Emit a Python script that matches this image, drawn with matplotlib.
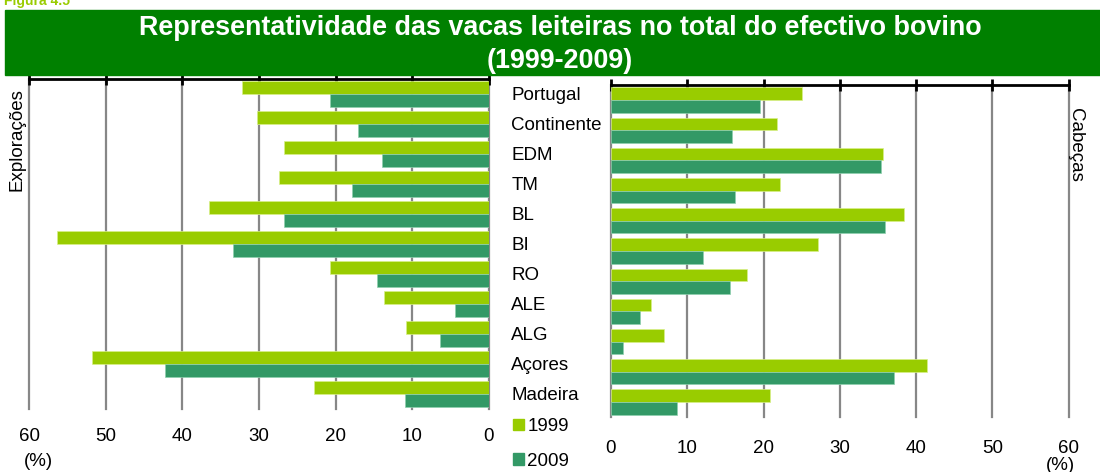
import matplotlib
matplotlib.use("Agg")
import matplotlib.pyplot as plt
from matplotlib.patches import Rectangle
import numpy as np

plt.rcParams['font.family'] = ['Liberation Sans', 'DejaVu Sans']

categories = ["Portugal", "Continente", "EDM", "TM", "BL", "BI", "RO", "ALE", "ALG", "Açores", "Madeira"]
explor_1999 = [32.2, 30.3, 26.7, 27.4, 36.5, 56.3, 20.7, 13.7, 10.8, 51.8, 22.8]
explor_2009 = [20.8, 17.1, 14.0, 17.9, 26.7, 33.4, 14.6, 4.5, 6.4, 42.2, 10.9]
cabecas_1999 = [25.1, 21.8, 35.7, 22.2, 38.4, 27.2, 17.8, 5.3, 7.0, 41.4, 20.8]
cabecas_2009 = [19.5, 15.8, 35.4, 16.3, 35.9, 12.0, 15.6, 3.8, 1.6, 37.1, 8.6]
ticks = [0, 10, 20, 30, 40, 50, 60]
series_labels = ["1999", "2009"]

c1999 = "#99CC00"
c2009 = "#339966"
grid_c = "#878787"
fs = 13.5

W, H = 1100, 472
fig = plt.figure(figsize=(W / 100, H / 100), dpi=100)

def fx(px):
    return px / W

def fy(py):
    return 1 - py / H

# Title box
fig.patches.append(Rectangle((fx(5), fy(75)), 1 - fx(5), fy(10) - fy(75),
                             transform=fig.transFigure, color="#008000", zorder=0))
fig.text(fx(560), fy(28), "Representatividade das vacas leiteiras no total do efectivo bovino",
         color="white", fontsize=19.4, fontweight="bold", ha="center", va="center")
fig.text(fx(560), fy(61), "(1999-2009)", color="white", fontsize=19.4,
         fontweight="bold", ha="center", va="center")
fig.text(fx(4), fy(1), "Figura 4.5", color=c1999, fontsize=10, fontweight="bold",
         ha="left", va="center")

y = np.arange(len(categories))
bh = 0.42

def style(ax, pad):
    ax.set_xlim(0, 60)
    ax.set_ylim(len(categories) - 0.5, -0.5)
    ax.set_xticks(ticks)
    ax.set_xticklabels([str(t) for t in ticks], fontsize=fs)
    ax.tick_params(axis="x", bottom=False, top=True, labelbottom=True, labeltop=False,
                   direction="inout", length=9, width=2, color="black", pad=pad)
    ax.grid(axis="x", color=grid_c, linewidth=1.6, zorder=0)
    for gl in ax.get_xgridlines():
        gl.set_clip_on(False)
    ax.set_axisbelow(True)
    for s in ["left", "right", "bottom"]:
        ax.spines[s].set_visible(False)
    ax.spines["top"].set_linewidth(2)
    ax.spines["top"].set_color("black")
    ax.spines["top"].set_zorder(5)

# Left panel: Explorações
axL = fig.add_axes([fx(29), fy(409), fx(489) - fx(29), fy(79) - fy(409)])
axL.barh(y - bh / 2, explor_1999, height=bh, color=c1999, edgecolor="#d8f08a", linewidth=0.5, zorder=3)
axL.barh(y + bh / 2, explor_2009, height=bh, color=c2009, edgecolor="#8fd0ae", linewidth=0.5, zorder=3)
style(axL, pad=9)
axL.set_xlim(60, 0)
axL.yaxis.tick_right()
axL.set_yticks(y)
axL.set_yticklabels(categories, fontsize=fs, ha="left")
axL.tick_params(axis="y", length=0, pad=16)

# Right panel: Cabeças
axR = fig.add_axes([fx(611), fy(417), fx(1068.6) - fx(611), fy(85) - fy(417)])
axR.barh(y - bh / 2, cabecas_1999, height=bh, color=c1999, edgecolor="#d8f08a", linewidth=0.5, zorder=3)
axR.barh(y + bh / 2, cabecas_2009, height=bh, color=c2009, edgecolor="#8fd0ae", linewidth=0.5, zorder=3)
style(axR, pad=12)
axR.set_yticks([])

# Side labels
fig.text(fx(17), fy(140), "Explorações", rotation=90, fontsize=fs, ha="center", va="center")
fig.text(fx(1075), fy(145), "Cabeças", rotation=270, fontsize=fs, ha="center", va="center")
fig.text(fx(38), fy(462), "(%)", fontsize=fs, ha="center", va="center")
fig.text(fx(1060), fy(465), "(%)", fontsize=fs, ha="center", va="center")

# Legend
handles = [Rectangle((0, 0), 1, 1, color=c1999), Rectangle((0, 0), 1, 1, color=c2009)]
fig.legend(handles, series_labels, loc="upper left", bbox_to_anchor=(fx(500), fy(405)),
           frameon=False, fontsize=fs, handlelength=0.6, handleheight=0.6,
           handletextpad=0.15, labelspacing=0.95, borderpad=0.2)

fig.savefig("out.png", dpi=100)
